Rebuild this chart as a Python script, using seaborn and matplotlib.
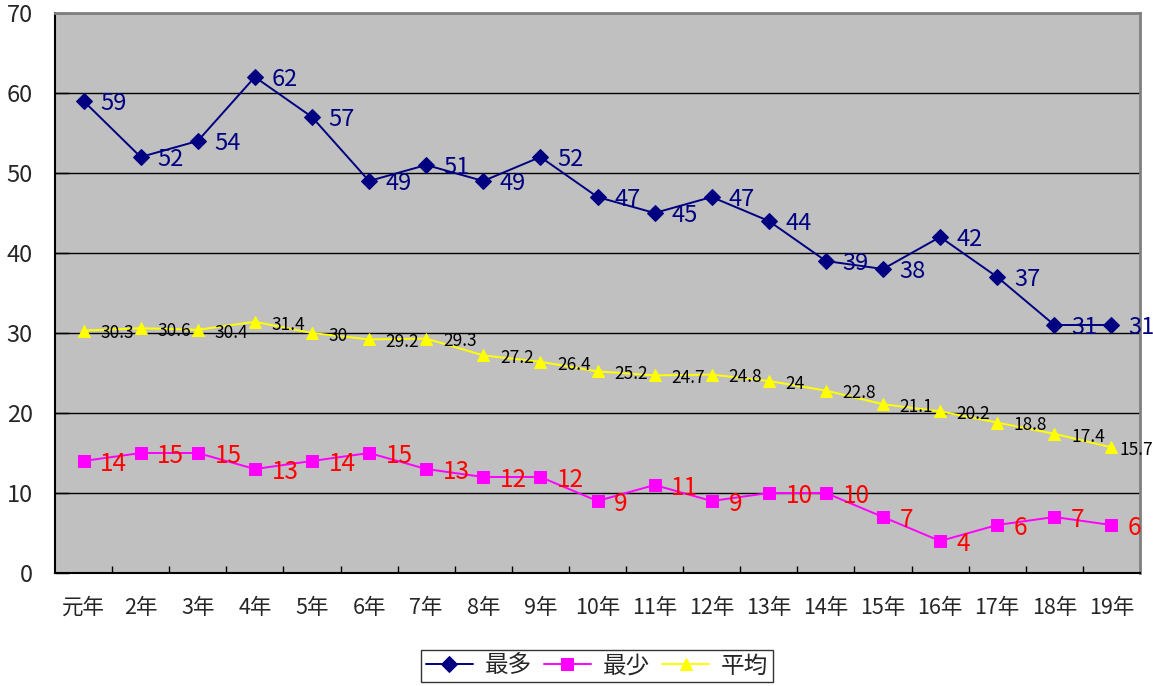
import matplotlib
matplotlib.use("Agg")
import matplotlib.pyplot as plt
from matplotlib.ticker import FixedLocator, MultipleLocator
import seaborn as sns
import pandas as pd
import numpy as np

# Yearly figures (元年 – 19年)
years = ["元年", "2年", "3年", "4年", "5年", "6年", "7年", "8年", "9年", "10年",
         "11年", "12年", "13年", "14年", "15年", "16年", "17年", "18年", "19年"]
most = [59, 52, 54, 62, 57, 49, 51, 49, 52, 47, 45, 47, 44, 39, 38, 42, 37, 31, 31]
least = [14, 15, 15, 13, 14, 15, 13, 12, 12, 9, 11, 9, 10, 10, 7, 4, 6, 7, 6]
average = [30.3, 30.6, 30.4, 31.4, 30, 29.2, 29.3, 27.2, 26.4, 25.2, 24.7, 24.8,
           24, 22.8, 21.1, 20.2, 18.8, 17.4, 15.7]

sns.set_style("white")
plt.rcParams["font.family"] = ["Noto Sans CJK JP", "DejaVu Sans"]

W, H = 1153, 686
fig = plt.figure(figsize=(W / 100, H / 100), dpi=100)
ax = fig.add_axes([55 / W, (H - 573) / H, (1140 - 55) / W, (573 - 13) / H])
ax.set_facecolor("#C0C0C0")

pos = np.arange(len(years))
df = pd.DataFrame({"pos": pos, "最多": most, "最少": least, "平均": average})

series = [
    ("最多", "#000080", "D", 8, "#000080", 17),
    ("最少", "#FF00FF", "s", 8, "#FF0000", 17.5),
    ("平均", "#FFFF00", "^", 9, "#000000", 12.5),
]

for name, color, marker, ms, label_color, fs in series:
    sns.lineplot(data=df, x="pos", y=name, ax=ax, color=color, marker=marker,
                 markersize=ms, markeredgecolor=color, linewidth=1.4,
                 label=name, legend=False)
    n = len(df)
    for i, (x, v) in enumerate(zip(df["pos"], df[name])):
        dx = 6 if (name == "平均" and i == n - 1) else 12
        ax.annotate(f"{v:g}", (x, v), xytext=(dx, -2), textcoords="offset points",
                    ha="left", va="center", color=label_color, fontsize=fs,
                    annotation_clip=False)

ax.set_xlim(-0.5, len(years) - 0.5)
ax.set_ylim(0, 70)
ax.yaxis.set_major_locator(MultipleLocator(10))
ax.set_xticks(pos)
ax.set_xticklabels(years)
ax.xaxis.set_minor_locator(FixedLocator(np.arange(0.5, len(years) - 1, 1)))
ax.tick_params(axis="x", which="major", length=0, pad=17, labelsize=15.5)
ax.tick_params(axis="x", which="minor", direction="in", length=5, width=1, color="black", bottom=True)
ax.tick_params(axis="y", which="major", direction="in", length=10, width=1, color="black",
               left=True, pad=16, labelsize=17)
ax.set_xlabel("")
ax.set_ylabel("")

ax.grid(axis="y", color="black", linewidth=1)
ax.set_axisbelow(True)

for side in ("left", "bottom"):
    ax.spines[side].set_color("black")
    ax.spines[side].set_linewidth(1.5)
for side in ("top", "right"):
    ax.spines[side].set_color("#808080")
    ax.spines[side].set_linewidth(2)
    ax.spines[side].set_visible(True)

h, l = ax.get_legend_handles_labels()
leg = fig.legend(h, l, loc="center", bbox_to_anchor=(597 / W, 1 - 666 / H), ncol=3,
                 fontsize=17, frameon=True, fancybox=False, edgecolor="black",
                 handlelength=2.0, handletextpad=0.5, columnspacing=0.5,
                 borderpad=0.2, borderaxespad=0)
leg.get_frame().set_linewidth(1)

fig.savefig("out.png", dpi=100, facecolor="white")
